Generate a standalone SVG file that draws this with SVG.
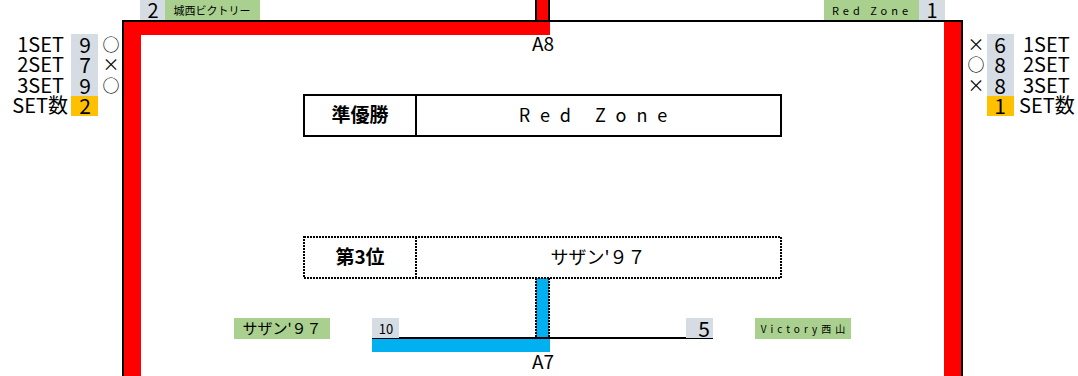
<svg xmlns="http://www.w3.org/2000/svg" width="1078" height="376" viewBox="0 0 1078 376">
<style>
text{font-family:"Noto Sans CJK JP","DejaVu Sans",sans-serif;fill:#000}
.lbl{font-size:20px}
.num{font-size:21px;text-anchor:middle}
.sym{font-size:17px;text-anchor:middle}
.sm{font-size:11px}
.gray{fill:#D6DCE4}
.green{fill:#A9D08E}
.orange{fill:#FFC000}
.red{fill:#FF0000}
.blue{fill:#00B0F0}
.solid{fill:#fff;stroke:#000;stroke-width:2}
.dot{fill:#fff;stroke:#000;stroke-width:2;stroke-dasharray:2 1}
</style>
<g id="connectors">
<rect class="red" x="122" y="21" width="19" height="355"/>
<rect class="red" x="122" y="21" width="428" height="14"/>
<rect class="red" x="944" y="21" width="19" height="355"/>
<rect class="red" x="536" y="0" width="13" height="21"/>
<path d="M123 376V21H962V376" fill="none" stroke="#000" stroke-width="2"/>
<path d="M536 0V21M549 0V21" stroke="#000" stroke-width="2"/>
<rect class="blue" x="372" y="338" width="178" height="14"/>
<rect class="blue" x="536" y="278" width="13" height="61"/>
<path d="M536 278V339M549 278V339" stroke="#000" stroke-width="2" stroke-dasharray="2 1"/>
<path d="M372 338H713" stroke="#000" stroke-width="2"/>
<text x="543" y="51" text-anchor="middle" font-size="19">A8</text>
<text x="543" y="369" text-anchor="middle" font-size="19">A7</text>
</g>
<g id="team-top-left">
<rect class="gray" x="140" y="0" width="25" height="20"/>
<text x="153" y="18" text-anchor="middle" font-size="20">2</text>
<rect class="green" x="165" y="0" width="95" height="20"/>
<text class="sm" x="212" y="15" text-anchor="middle">城西ビクトリー</text>
</g>
<g id="team-top-right">
<rect class="green" x="824" y="0" width="95" height="20"/>
<text class="sm" x="872" y="15" text-anchor="middle" letter-spacing="4">Red Zone</text>
<rect class="gray" x="919" y="0" width="26" height="20"/>
<text x="932" y="18" text-anchor="middle" font-size="20">1</text>
</g>
<g id="score-left">
<rect class="gray" x="71" y="34" width="27" height="62"/>
<rect class="orange" x="71" y="96" width="27" height="20"/>
<text class="lbl" x="64" y="52" text-anchor="end">1SET</text>
<text class="lbl" x="64" y="72" text-anchor="end">2SET</text>
<text class="lbl" x="64" y="93" text-anchor="end">3SET</text>
<text class="lbl" x="68" y="113" text-anchor="end">SET数</text>
<text class="num" x="85" y="53">9</text>
<text class="num" x="85" y="73">7</text>
<text class="num" x="85" y="94">9</text>
<text class="num" x="85" y="114">2</text>
<text class="sym" x="111" y="51">○</text>
<text class="sym" x="111" y="71">×</text>
<text class="sym" x="111" y="92">○</text>
</g>
<g id="score-right">
<rect class="gray" x="987" y="34" width="27" height="62"/>
<rect class="orange" x="987" y="96" width="27" height="20"/>
<text class="sym" x="976" y="51">×</text>
<text class="sym" x="976" y="71">○</text>
<text class="sym" x="976" y="92">×</text>
<text class="num" x="1000" y="53">6</text>
<text class="num" x="1000" y="73">8</text>
<text class="num" x="1000" y="94">8</text>
<text class="num" x="1000" y="114">1</text>
<text class="lbl" x="1023" y="52">1SET</text>
<text class="lbl" x="1023" y="72">2SET</text>
<text class="lbl" x="1023" y="93">3SET</text>
<text class="lbl" x="1019" y="113">SET数</text>
</g>
<g id="runner-up">
<rect class="solid" x="304" y="95" width="477" height="41"/>
<path d="M416 95V136" stroke="#000" stroke-width="2"/>
<text x="360" y="122" text-anchor="middle" font-size="19" font-weight="bold">準優勝</text>
<text x="598" y="122" text-anchor="middle" font-size="18" letter-spacing="10">Red Zone</text>
</g>
<g id="third-place">
<rect class="dot" x="304" y="237" width="477" height="41"/>
<path d="M416 237V278" stroke="#000" stroke-width="2" stroke-dasharray="2 1"/>
<text x="360" y="264" text-anchor="middle" font-size="19" font-weight="bold">第3位</text>
<text x="598" y="264" text-anchor="middle" font-size="18">サザン'９７</text>
</g>
<g id="team-bottom-left">
<rect class="green" x="234" y="318" width="96" height="21"/>
<text x="282" y="334" text-anchor="middle" font-size="15">サザン'９７</text>
<rect class="gray" x="372" y="318" width="27" height="20"/>
<text x="386" y="334" text-anchor="middle" font-size="13">10</text>
</g>
<g id="team-bottom-right">
<rect class="gray" x="686" y="318" width="27" height="20"/>
<text class="num" x="704" y="337">5</text>
<rect class="green" x="755" y="318" width="96" height="21"/>
<text x="805" y="333" text-anchor="middle" font-size="10" letter-spacing="4">Victory西山</text>
</g>
</svg>
